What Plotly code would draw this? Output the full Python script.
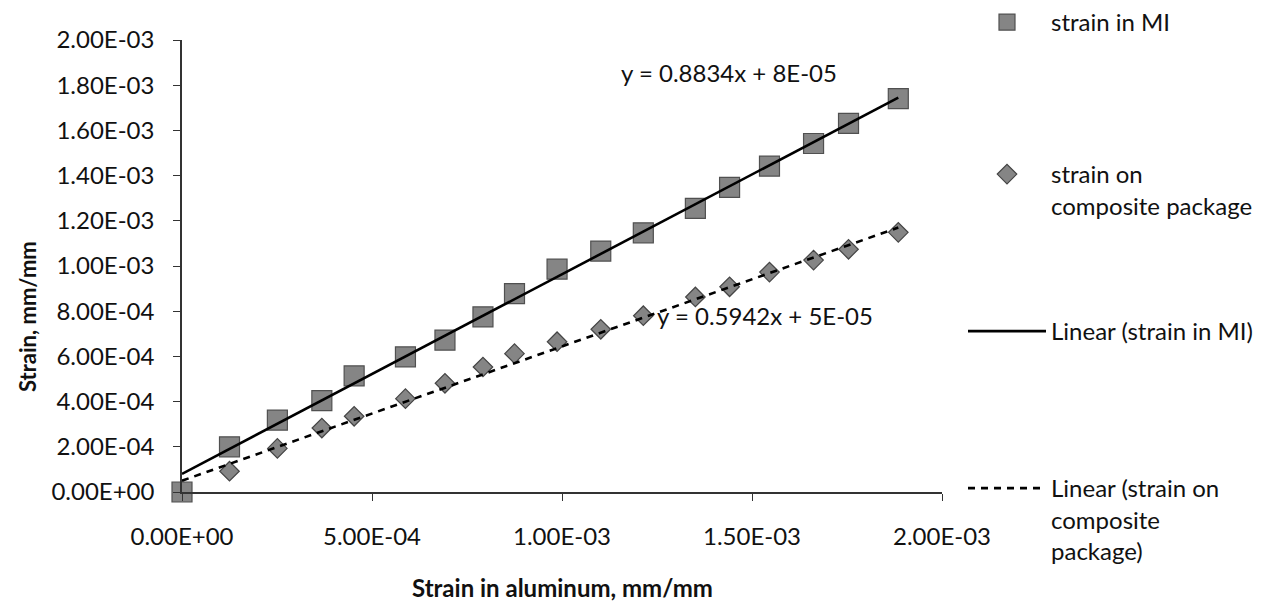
import plotly.graph_objects as go

# Measured strains (mm/mm)
strain_aluminum = [0.0, 1.25e-4, 2.51e-4, 3.68e-4, 4.53e-4, 5.88e-4, 6.92e-4, 7.92e-4, 8.75e-4,
                   9.87e-4, 1.102e-3, 1.214e-3, 1.351e-3, 1.441e-3, 1.546e-3, 1.662e-3, 1.754e-3, 1.885e-3]
strain_mi = [0.0, 2.00e-4, 3.18e-4, 4.04e-4, 5.14e-4, 5.98e-4, 6.72e-4, 7.75e-4, 8.78e-4,
             9.86e-4, 1.066e-3, 1.147e-3, 1.255e-3, 1.348e-3, 1.442e-3, 1.542e-3, 1.631e-3, 1.741e-3]
strain_aluminum_comp = strain_aluminum[1:]
strain_composite = [0.92e-4, 1.93e-4, 2.83e-4, 3.35e-4, 4.13e-4, 4.81e-4, 5.53e-4, 6.12e-4,
                    6.65e-4, 7.20e-4, 7.80e-4, 8.63e-4, 9.08e-4, 9.73e-4, 1.026e-3, 1.074e-3, 1.149e-3]

# Linear trendline coefficients (slope, intercept)
fit_mi = (0.8834, 8e-05)
fit_comp = (0.5942, 5e-05)

x_tick_vals = [0.0, 5e-4, 1e-3, 1.5e-3, 2e-3]
y_tick_vals = [0.0, 2e-4, 4e-4, 6e-4, 8e-4, 1e-3, 1.2e-3, 1.4e-3, 1.6e-3, 1.8e-3, 2e-3]

FONT = "Lato"
TXT = "#111111"


def sci(v):
    return f"{v:.2E}"


def trend(fit, xs):
    slope, icpt = fit
    xe = [0.0, max(xs)]
    return xe, [slope * v + icpt for v in xe]


def eq_label(fit):
    slope, icpt = fit
    return f"y = {slope}x + {icpt:.0E}"


fig = go.Figure()

fig.add_trace(go.Scatter(
    x=strain_aluminum, y=strain_mi, mode="markers", name="strain in MI",
    marker=dict(symbol="square", size=20, color="#858585", line=dict(color="#505050", width=1.2)),
    cliponaxis=False, legend="legend"))

fig.add_trace(go.Scatter(
    x=strain_aluminum_comp, y=strain_composite, mode="markers", name="strain on<br>composite package",
    marker=dict(symbol="diamond", size=15, color="#858585", line=dict(color="#454545", width=1.2)),
    cliponaxis=False, legend="legend2"))

tx, ty = trend(fit_mi, strain_aluminum)
fig.add_trace(go.Scatter(
    x=tx, y=ty, mode="lines", name="Linear (strain in MI)",
    line=dict(color="#000000", width=2.6), legend="legend3"))

tx, ty = trend(fit_comp, strain_aluminum_comp)
fig.add_trace(go.Scatter(
    x=tx, y=ty, mode="lines", name="Linear (strain on<br>composite<br>package)",
    line=dict(color="#000000", width=2.6, dash="7px,6px"), legend="legend4"))

# plot area in pixels: x 182..942, y 40..492
L, R, T, B = 182, 331, 40, 110
W, H = 1273, 602
PW, PH = W - L - R, H - T - B


def px_x(p):
    return (p - L) / PW


def px_y(p):
    return (H - B - p) / PH


leg_common = dict(font=dict(family=FONT, size=24, color=TXT), bgcolor="rgba(0,0,0,0)",
                  xanchor="left", yanchor="top", itemwidth=78, valign="top")

fig.update_layout(
    width=W, height=H,
    margin=dict(l=L, r=R, t=T, b=B, autoexpand=False),
    paper_bgcolor="white", plot_bgcolor="white",
    font=dict(family=FONT, size=24, color=TXT),
    showlegend=True,
    legend=dict(x=px_x(963), y=px_y(0), **leg_common),
    legend2=dict(x=px_x(963), y=px_y(152), **leg_common),
    legend3=dict(x=px_x(963), y=px_y(309), **leg_common),
    legend4=dict(x=px_x(963), y=px_y(466), **leg_common),
    xaxis=dict(range=[0, 2e-3], tickvals=x_tick_vals, ticktext=[sci(v) for v in x_tick_vals],
               showgrid=False, zeroline=False, showline=True, linecolor="#333333", linewidth=1.5,
               ticks="outside", ticklen=7, tickcolor="#333333", tickwidth=1.2,
               tickfont=dict(family=FONT, size=24, color=TXT), ticklabelstandoff=15),
    yaxis=dict(range=[0, 2e-3], tickvals=y_tick_vals, ticktext=[sci(v) for v in y_tick_vals],
               showgrid=False, zeroline=False, showline=True, linecolor="#333333", linewidth=1.5,
               ticks="outside", ticklen=7, tickcolor="#333333", tickwidth=1.2,
               tickfont=dict(family=FONT, size=24, color=TXT), ticklabelstandoff=14),
    annotations=[
        dict(x=1.151e-3, y=1.858e-3, xref="x", yref="y", text=eq_label(fit_mi), showarrow=False,
             xanchor="left", yanchor="middle", font=dict(family=FONT, size=24, color=TXT)),
        dict(x=1.245e-3, y=0.782e-3, xref="x", yref="y", text=eq_label(fit_comp), showarrow=False,
             xanchor="left", yanchor="middle", font=dict(family=FONT, size=24, color=TXT)),
        dict(x=px_x(27), y=px_y(317), xref="paper", yref="paper", text="Strain, mm/mm",
             textangle=-90, showarrow=False, xanchor="center", yanchor="middle",
             font=dict(family=FONT, size=22, color=TXT, weight="bold")),
        dict(x=0.5, y=px_y(587), xref="paper", yref="paper", text="Strain in aluminum, mm/mm",
             showarrow=False, xanchor="center", yanchor="middle",
             font=dict(family=FONT, size=24, color=TXT, weight="bold")),
    ],
)

fig.write_html("out.html")
